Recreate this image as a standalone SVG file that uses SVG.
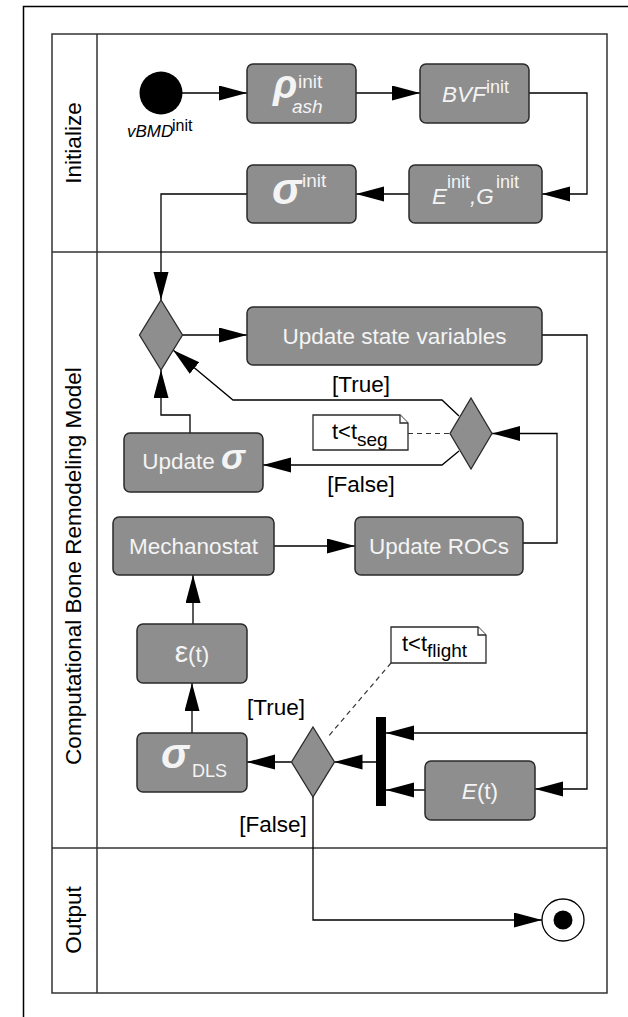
<svg xmlns="http://www.w3.org/2000/svg" width="628" height="1017" viewBox="0 0 628 1017">
<defs>
<marker id="ah" markerUnits="userSpaceOnUse" markerWidth="28" markerHeight="16" refX="28" refY="7.5" orient="auto">
<path d="M0,0 L28,7.5 L0,15 Z" fill="#000"/>
</marker>
<style>
text{font-family:"Liberation Sans",Arial,sans-serif;}
.frame{fill:none;stroke:#333;stroke-width:1.5;}
.lane{font-size:22.5px;fill:#000;}
.box{fill:#8e8e8e;stroke:#2a2a2a;stroke-width:1.5;}
.dia{fill:#8e8e8e;stroke:#2a2a2a;stroke-width:1.3;}
.bt{font-size:22.5px;fill:#f4f4f4;}
.gk{font-weight:bold;font-style:italic;}
.it{font-style:italic;}
.note{fill:#fff;stroke:#2a2a2a;stroke-width:1.3;}
.nt{font-size:22px;fill:#000;}
.lbl{font-size:22.5px;fill:#000;}
.ca{fill:none;stroke:#000;stroke-width:1.3;marker-end:url(#ah);}
.dash{fill:none;stroke:#333;stroke-width:1.2;stroke-dasharray:5,4;}
</style>
</defs>
<rect width="628" height="1017" fill="#fff"/>
<g id="frame">
<rect x="23.5" y="6.5" width="640" height="1040" fill="none" stroke="#000" stroke-width="1.5"/>
<rect class="frame" x="52" y="34" width="555" height="959"/>
<line class="frame" x1="97" y1="34" x2="97" y2="993"/>
<line class="frame" x1="52" y1="252" x2="607" y2="252"/>
<line class="frame" x1="52" y1="848" x2="607" y2="848"/>
<text class="lane" text-anchor="middle" transform="translate(81,143) rotate(-90)">Initialize</text>
<text class="lane" text-anchor="middle" transform="translate(81,566) rotate(-90)">Computational Bone Remodeling Model</text>
<text class="lane" text-anchor="middle" transform="translate(81,920) rotate(-90)">Output</text>
</g>
<g id="connectors">
<path class="ca" d="M182,93 H247"/>
<path class="ca" d="M356,93 H420"/>
<path class="ca" d="M529,93 H587 V194 H542"/>
<path class="ca" d="M409,194 H356"/>
<path class="ca" d="M247,194 H161 V300"/>
<path class="ca" d="M182.5,335 H247"/>
<path class="ca" d="M542,335 H587 V789 H535"/>
<path class="ca" d="M587,733 H386"/>
<path class="ca" d="M425,790 H386"/>
<path class="ca" d="M376,762 H334.5"/>
<path class="ca" d="M291.5,762 H247"/>
<path class="ca" d="M192,733 V683"/>
<path class="ca" d="M193,624 V575"/>
<path class="ca" d="M274,546 H355"/>
<path class="ca" d="M523,543 H557 V433.5 H492"/>
<path class="ca" d="M459,416 L442,400 H233 L173,350"/>
<path class="ca" d="M459,451 L442,465 H263"/>
<path class="ca" d="M190,433 V415 H161 V370"/>
<path class="ca" d="M313,797 V920 H542"/>
<path class="dash" d="M408,433.5 H450"/>
<path class="dash" d="M391,663 L327,738"/>
<text class="lbl" x="361" y="392" text-anchor="middle">[True]</text>
<text class="lbl" x="361" y="492" text-anchor="middle">[False]</text>
<text class="lbl" x="276" y="715" text-anchor="middle">[True]</text>
<text class="lbl" x="273" y="832" text-anchor="middle">[False]</text>
</g>
<g id="start">
<circle cx="161" cy="93" r="21.5" fill="#000"/>
<text x="127" y="137" style="font-size:17px;font-style:italic">vBMD</text>
<text x="172" y="131" style="font-size:16px">init</text>
</g>
<g id="rho">
<rect class="box" x="247" y="64" width="109" height="59" rx="6"/>
<text class="bt gk" x="273" y="98" style="font-size:40px">ρ</text>
<text class="bt" x="298" y="88" style="font-size:19px">init</text>
<text class="bt it" x="292" y="113" style="font-size:19px">ash</text>
</g>
<g id="bvf">
<rect class="box" x="420" y="64" width="109" height="59" rx="6"/>
<text class="bt it" x="442" y="102">BVF</text>
<text class="bt" x="486" y="93" style="font-size:18px">init</text>
</g>
<g id="eg">
<rect class="box" x="409" y="165" width="133" height="58" rx="6"/>
<text class="bt it" x="432" y="204">E</text>
<text class="bt" x="447" y="188" style="font-size:18px">init</text>
<text class="bt it" x="470" y="204">,G</text>
<text class="bt" x="496" y="188" style="font-size:18px">init</text>
</g>
<g id="sigma-init">
<rect class="box" x="247" y="165" width="109" height="58" rx="6"/>
<text class="bt gk" x="272" y="204" style="font-size:44px">σ</text>
<text class="bt" x="302" y="187" style="font-size:19px">init</text>
</g>
<g id="merge">
<polygon class="dia" points="161,300 182.5,335 161,370 139.5,335"/>
</g>
<g id="update-state">
<rect class="box" x="247" y="307" width="295" height="58" rx="6"/>
<text class="bt" x="394.5" y="344" text-anchor="middle">Update state variables</text>
</g>
<g id="decision-seg">
<polygon class="dia" points="471,398 492,433.5 471,469 450,433.5"/>
</g>
<g id="note-seg">
<path class="note" d="M313,415 H400 L408,423 V450 H313 Z"/>
<path class="note" d="M400,415 V423 H408"/>
<text class="nt" x="332" y="439">t&lt;t</text>
<text class="nt" x="357" y="446" style="font-size:19px">seg</text>
</g>
<g id="update-sigma">
<rect class="box" x="124" y="433" width="139" height="59" rx="6"/>
<text class="bt" x="193.5" y="469" text-anchor="middle">Update <tspan class="gk" style="font-size:36px">σ</tspan></text>
</g>
<g id="mechanostat">
<rect class="box" x="113" y="517" width="161" height="58" rx="6"/>
<text class="bt" x="193.5" y="554" text-anchor="middle">Mechanostat</text>
</g>
<g id="update-rocs">
<rect class="box" x="355" y="517" width="168" height="58" rx="6"/>
<text class="bt" x="439" y="554" text-anchor="middle">Update ROCs</text>
</g>
<g id="note-flight">
<path class="note" d="M391,627 H478 L486,635 V663 H391 Z"/>
<path class="note" d="M478,627 V635 H486"/>
<text class="nt" x="402" y="651">t&lt;t</text>
<text class="nt" x="427" y="657" style="font-size:19px">flight</text>
</g>
<g id="epsilon">
<rect class="box" x="137" y="624" width="110" height="59" rx="6"/>
<text class="bt" x="192" y="662" text-anchor="middle"><tspan style="font-size:30px">ε</tspan>(t)</text>
</g>
<g id="sigma-dls">
<rect class="box" x="137" y="733" width="110" height="59" rx="6"/>
<text class="bt gk" x="161" y="768" style="font-size:42px">σ</text>
<text class="bt" x="192" y="777" style="font-size:18px">DLS</text>
</g>
<g id="decision-flight">
<polygon class="dia" points="313,727 334.5,762 313,797 291.5,762"/>
</g>
<g id="join-bar">
<rect x="376" y="717" width="10" height="89" fill="#000"/>
</g>
<g id="e-t">
<rect class="box" x="425" y="761" width="110" height="59" rx="6"/>
<text class="bt" x="480" y="799" text-anchor="middle"><tspan class="it">E</tspan>(t)</text>
</g>
<g id="final">
<circle cx="563" cy="920" r="21" fill="#fff" stroke="#000" stroke-width="1.3"/>
<circle cx="563" cy="920" r="9.5" fill="#000"/>
</g>
</svg>
